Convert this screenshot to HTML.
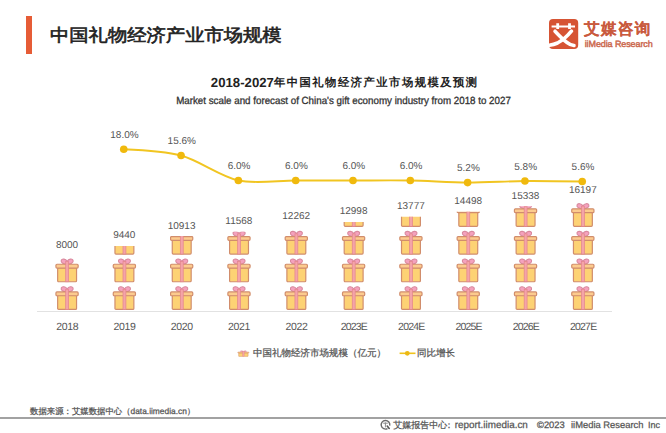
<!DOCTYPE html>
<html><head><meta charset="utf-8"><style>
html,body{margin:0;padding:0;background:#fff;}
body{width:666px;height:433px;position:relative;overflow:hidden;font-family:"Liberation Sans",sans-serif;text-rendering:geometricPrecision;}
.abs{position:absolute;white-space:nowrap;}
#bar{position:absolute;left:26.4px;top:16.4px;width:5.7px;height:38.1px;background:#e65c36;}
#title{position:absolute;left:50px;top:21.3px;font-size:17.4px;transform:scaleX(1.11);transform-origin:0 0;color:#222;font-weight:400;-webkit-text-stroke:0.6px #222;white-space:nowrap;line-height:28px;}

#logo span{position:absolute;left:0;top:1px;width:30px;text-align:center;color:#fff;font-size:25px;line-height:30px;font-weight:bold;}
#lname{position:absolute;left:584px;top:18px;font-size:15.6px;letter-spacing:1.3px;color:#c95a3e;font-weight:bold;-webkit-text-stroke:0.1px #c95a3e;line-height:24px;white-space:nowrap;}
#lsub{position:absolute;left:584.7px;top:38.8px;font-size:9px;color:#cc6a50;-webkit-text-stroke:0.45px #cc6a50;letter-spacing:-0.1px;line-height:11px;white-space:nowrap;}
.cj{font-size:11.3px;letter-spacing:1.5px;vertical-align:0.8px;}
#ctitle{position:absolute;left:0;width:689.5px;text-align:center;top:73.9px;font-size:13.2px;font-weight:bold;color:#222;line-height:18px;}
#csub{position:absolute;left:0;width:687px;text-align:center;top:95px;font-size:10.4px;transform:scaleX(0.94);transform-origin:343.5px 0;color:#333;-webkit-text-stroke:0.3px #333;line-height:14px;}
.vl,.rl,.xl{position:absolute;width:60px;text-align:center;font-size:10px;color:#555;line-height:14px;}
.xl{top:320px;font-size:10.5px;}
#axis{position:absolute;left:37px;top:311px;width:575px;height:1px;background:#e2e2e2;}
#leg1{position:absolute;left:253px;top:347.2px;font-size:9.5px;color:#555;-webkit-text-stroke:0.25px #555;line-height:14px;white-space:nowrap;}
#leg2{position:absolute;left:417px;top:347.2px;font-size:9.5px;color:#555;-webkit-text-stroke:0.25px #555;line-height:14px;white-space:nowrap;}
#src{position:absolute;left:30px;top:403.8px;font-size:8.4px;color:#555;-webkit-text-stroke:0.25px #555;line-height:14px;white-space:nowrap;}
#fline{position:absolute;left:0;top:417px;width:666px;height:2px;background:#a2a2a2;}
#fcj{font-size:9px;position:relative;top:-1px;}#fcol{font-size:9px;letter-spacing:1.2px;margin-left:-2.7px;position:relative;top:-1px;}#frep{font-size:9.9px;position:relative;top:-0.5px;}
#foot{position:absolute;left:393.3px;top:418.5px;font-size:9.5px;color:#555;-webkit-text-stroke:0.25px #555;line-height:14px;white-space:nowrap;}
.fc{position:absolute;top:418.2px;font-size:9px;color:#555;-webkit-text-stroke:0.25px #555;line-height:14px;white-space:nowrap;}
</style></head><body>
<div id="bar"></div>
<div id="title">中国礼物经济产业市场规模</div>
<svg id="logo" width="30" height="30" viewBox="0 0 30 30" style="position:absolute;left:548.8px;top:18.8px"><rect x="0" y="0" width="29.2" height="30" rx="4" fill="#d65434"/><path d="M2.6 6.4 H26 V8.4 H2.6Z M7.3 4.2 H10.1 V10 H7.3Z M19.1 4.2 H21.9 V10 H19.1Z" fill="#fff"/><path d="M6 12.2 C10 16.5 14 20.5 18 23.5 C20 25 22.5 26.3 25 26.6" stroke="#fff" stroke-width="3.5" fill="none" stroke-linecap="round"/><path d="M22.4 12.2 C18 17.5 13.5 21.5 8.5 24 C5.5 25.3 2.5 25.9 0.3 26.2" stroke="#fff" stroke-width="3.6" fill="none" stroke-linecap="round"/></svg>
<div id="lname">艾媒咨询</div>
<div id="lsub">iiMedia Research</div>
<div id="ctitle">2018-2027<span class="cj">年中国礼物经济产业市场规模及预测</span></div>
<div id="csub">Market scale and forecast of China's gift economy industry from 2018 to 2027</div>
<div id="axis"></div>
<svg width="666" height="433" style="position:absolute;left:0;top:0">
<defs>
<symbol id="gift" viewBox="0 0 24 24" overflow="visible">
  <path d="M11.8 6.5 C8.6 6.1 5.0 4.5 5.9 2.1 C6.7 0.2 10.3 0.6 11.8 3.1 C13.3 0.6 16.9 0.2 17.7 2.1 C18.6 4.5 15.0 6.1 11.8 6.5 Z" fill="#f4a2be" stroke="#d98a9e" stroke-width="1.1"/>
  <rect x="2.3" y="9.5" width="18.9" height="14.1" rx="1" fill="#fdd274" stroke="#d18d6c" stroke-width="1.2"/>
  <rect x="0.6" y="6.1" width="22.2" height="3.8" rx="1" fill="#fccb8e" stroke="#d18d6c" stroke-width="1.2"/>
  <rect x="10.35" y="3.4" width="2.9" height="20.2" fill="#f4a4a8" stroke="#e3848e" stroke-width="0.7"/>
</symbol></defs>
<clipPath id="c0"><rect x="47.00" y="255.77" width="40" height="58.23"/></clipPath><g clip-path="url(#c0)"><use href="#gift" x="55.35" y="285.86" width="24" height="24"/><use href="#gift" x="55.35" y="258.16" width="24" height="24"/></g><clipPath id="c1"><rect x="104.31" y="246.03" width="40" height="67.97"/></clipPath><g clip-path="url(#c1)"><use href="#gift" x="112.66" y="285.86" width="24" height="24"/><use href="#gift" x="112.66" y="258.16" width="24" height="24"/><use href="#gift" x="112.66" y="230.46" width="24" height="24"/></g><clipPath id="c2"><rect x="161.62" y="236.07" width="40" height="77.93"/></clipPath><g clip-path="url(#c2)"><use href="#gift" x="169.97" y="285.86" width="24" height="24"/><use href="#gift" x="169.97" y="258.16" width="24" height="24"/><use href="#gift" x="169.97" y="230.46" width="24" height="24"/></g><clipPath id="c3"><rect x="218.93" y="231.64" width="40" height="82.36"/></clipPath><g clip-path="url(#c3)"><use href="#gift" x="227.28" y="285.86" width="24" height="24"/><use href="#gift" x="227.28" y="258.16" width="24" height="24"/><use href="#gift" x="227.28" y="230.46" width="24" height="24"/></g><clipPath id="c4"><rect x="276.24" y="226.94" width="40" height="87.06"/></clipPath><g clip-path="url(#c4)"><use href="#gift" x="284.59" y="285.86" width="24" height="24"/><use href="#gift" x="284.59" y="258.16" width="24" height="24"/><use href="#gift" x="284.59" y="230.46" width="24" height="24"/></g><clipPath id="c5"><rect x="333.55" y="221.96" width="40" height="92.04"/></clipPath><g clip-path="url(#c5)"><use href="#gift" x="341.90" y="285.86" width="24" height="24"/><use href="#gift" x="341.90" y="258.16" width="24" height="24"/><use href="#gift" x="341.90" y="230.46" width="24" height="24"/><use href="#gift" x="341.90" y="202.76" width="24" height="24"/></g><clipPath id="c6"><rect x="390.86" y="216.70" width="40" height="97.30"/></clipPath><g clip-path="url(#c6)"><use href="#gift" x="399.21" y="285.86" width="24" height="24"/><use href="#gift" x="399.21" y="258.16" width="24" height="24"/><use href="#gift" x="399.21" y="230.46" width="24" height="24"/><use href="#gift" x="399.21" y="202.76" width="24" height="24"/></g><clipPath id="c7"><rect x="448.17" y="211.82" width="40" height="102.18"/></clipPath><g clip-path="url(#c7)"><use href="#gift" x="456.52" y="285.86" width="24" height="24"/><use href="#gift" x="456.52" y="258.16" width="24" height="24"/><use href="#gift" x="456.52" y="230.46" width="24" height="24"/><use href="#gift" x="456.52" y="202.76" width="24" height="24"/></g><clipPath id="c8"><rect x="505.48" y="206.14" width="40" height="107.86"/></clipPath><g clip-path="url(#c8)"><use href="#gift" x="513.83" y="285.86" width="24" height="24"/><use href="#gift" x="513.83" y="258.16" width="24" height="24"/><use href="#gift" x="513.83" y="230.46" width="24" height="24"/><use href="#gift" x="513.83" y="202.76" width="24" height="24"/></g><clipPath id="c9"><rect x="562.79" y="200.33" width="40" height="113.67"/></clipPath><g clip-path="url(#c9)"><use href="#gift" x="571.14" y="285.86" width="24" height="24"/><use href="#gift" x="571.14" y="258.16" width="24" height="24"/><use href="#gift" x="571.14" y="230.46" width="24" height="24"/><use href="#gift" x="571.14" y="202.76" width="24" height="24"/></g>
<path d="M123.76 149.30 C123.76 149.30 164.57 151.05 181.07 155.54 C198.96 160.41 220.44 176.59 238.38 180.50 C254.83 184.08 278.50 180.50 295.69 180.50 C312.88 180.50 335.81 180.50 353.00 180.50 C370.19 180.50 393.12 180.19 410.31 180.50 C427.51 180.81 450.42 182.50 467.62 182.58 C484.81 182.66 507.73 181.18 524.93 181.02 C542.12 180.86 582.24 181.54 582.24 181.54" fill="none" stroke="#f1c521" stroke-width="1.9"/>
<circle cx="123.76" cy="149.30" r="3.8" fill="#f0b90d"/><circle cx="181.07" cy="155.54" r="3.8" fill="#f0b90d"/><circle cx="238.38" cy="180.50" r="3.8" fill="#f0b90d"/><circle cx="295.69" cy="180.50" r="3.8" fill="#f0b90d"/><circle cx="353.00" cy="180.50" r="3.8" fill="#f0b90d"/><circle cx="410.31" cy="180.50" r="3.8" fill="#f0b90d"/><circle cx="467.62" cy="182.58" r="3.8" fill="#f0b90d"/><circle cx="524.93" cy="181.02" r="3.8" fill="#f0b90d"/><circle cx="582.24" cy="181.54" r="3.8" fill="#f0b90d"/>
<g transform="translate(237.5 350.5) scale(0.5 0.25)"><use href="#gift" x="0" y="0" width="24" height="24"/></g>
<line x1="399.6" y1="353.3" x2="415.5" y2="353.3" stroke="#f0c31c" stroke-width="1.6"/>
<circle cx="407.3" cy="353.3" r="2.4" fill="#ecb914"/>
<g transform="translate(380.6 419.8)"><path d="M6.9 8.8 A4.3 4.3 0 1 1 9.1 5.9" fill="none" stroke="#6a6a6a" stroke-width="1.4"/><path d="M2.6 3.4 H7.2 M4.8 2.6 V7.6" stroke="#8a8a8a" stroke-width="1"/><path d="M6.6 6.2 L8.6 8.6" stroke="#555" stroke-width="1.6" stroke-linecap="round"/></g>
</svg>
<div class="vl" style="left:37.0px;top:239.2px">8000</div><div class="vl" style="left:94.3px;top:229.4px">9440</div><div class="vl" style="left:151.6px;top:219.5px">10913</div><div class="vl" style="left:208.9px;top:215.0px">11568</div><div class="vl" style="left:266.2px;top:210.3px">12262</div><div class="vl" style="left:323.6px;top:205.4px">12998</div><div class="vl" style="left:380.9px;top:200.1px">13777</div><div class="vl" style="left:438.2px;top:195.2px">14498</div><div class="vl" style="left:495.5px;top:189.5px">15338</div><div class="vl" style="left:552.8px;top:183.7px">16197</div>
<div class="rl" style="left:94.5px;top:129.1px">18.0%</div><div class="rl" style="left:151.8px;top:135.3px">15.6%</div><div class="rl" style="left:209.1px;top:160.3px">6.0%</div><div class="rl" style="left:266.4px;top:160.3px">6.0%</div><div class="rl" style="left:323.8px;top:160.3px">6.0%</div><div class="rl" style="left:381.1px;top:160.3px">6.0%</div><div class="rl" style="left:438.4px;top:162.4px">5.2%</div><div class="rl" style="left:495.7px;top:160.8px">5.8%</div><div class="rl" style="left:553.0px;top:161.3px">5.6%</div>
<div class="xl" style="left:37.2px;letter-spacing:-0.35px">2018</div><div class="xl" style="left:94.5px;letter-spacing:-0.35px">2019</div><div class="xl" style="left:151.8px;letter-spacing:-0.35px">2020</div><div class="xl" style="left:209.1px;letter-spacing:-0.35px">2021</div><div class="xl" style="left:266.4px;letter-spacing:-0.35px">2022</div><div class="xl" style="left:323.9px;letter-spacing:-0.8px">2023E</div><div class="xl" style="left:381.3px;letter-spacing:-0.8px">2024E</div><div class="xl" style="left:438.6px;letter-spacing:-0.8px">2025E</div><div class="xl" style="left:495.9px;letter-spacing:-0.8px">2026E</div><div class="xl" style="left:553.2px;letter-spacing:-0.8px">2027E</div>
<div id="leg1">中国礼物经济市场规模（亿元）</div>
<div id="leg2">同比增长</div>
<div id="src">数据来源：艾媒数据中心（data.iimedia.cn）</div>
<div id="fline"></div>
<div id="foot"><span id="fcj">艾媒报告中心</span><span id="fcol">：</span><span id="frep">report.iimedia.cn</span></div>
<div class="fc" style="left:537px;font-size:9.4px">©2023</div><div class="fc" id="fir" style="left:571px;font-size:9.4px">iiMedia Research</div><div class="fc" style="left:648px">Inc</div>
</body></html>
